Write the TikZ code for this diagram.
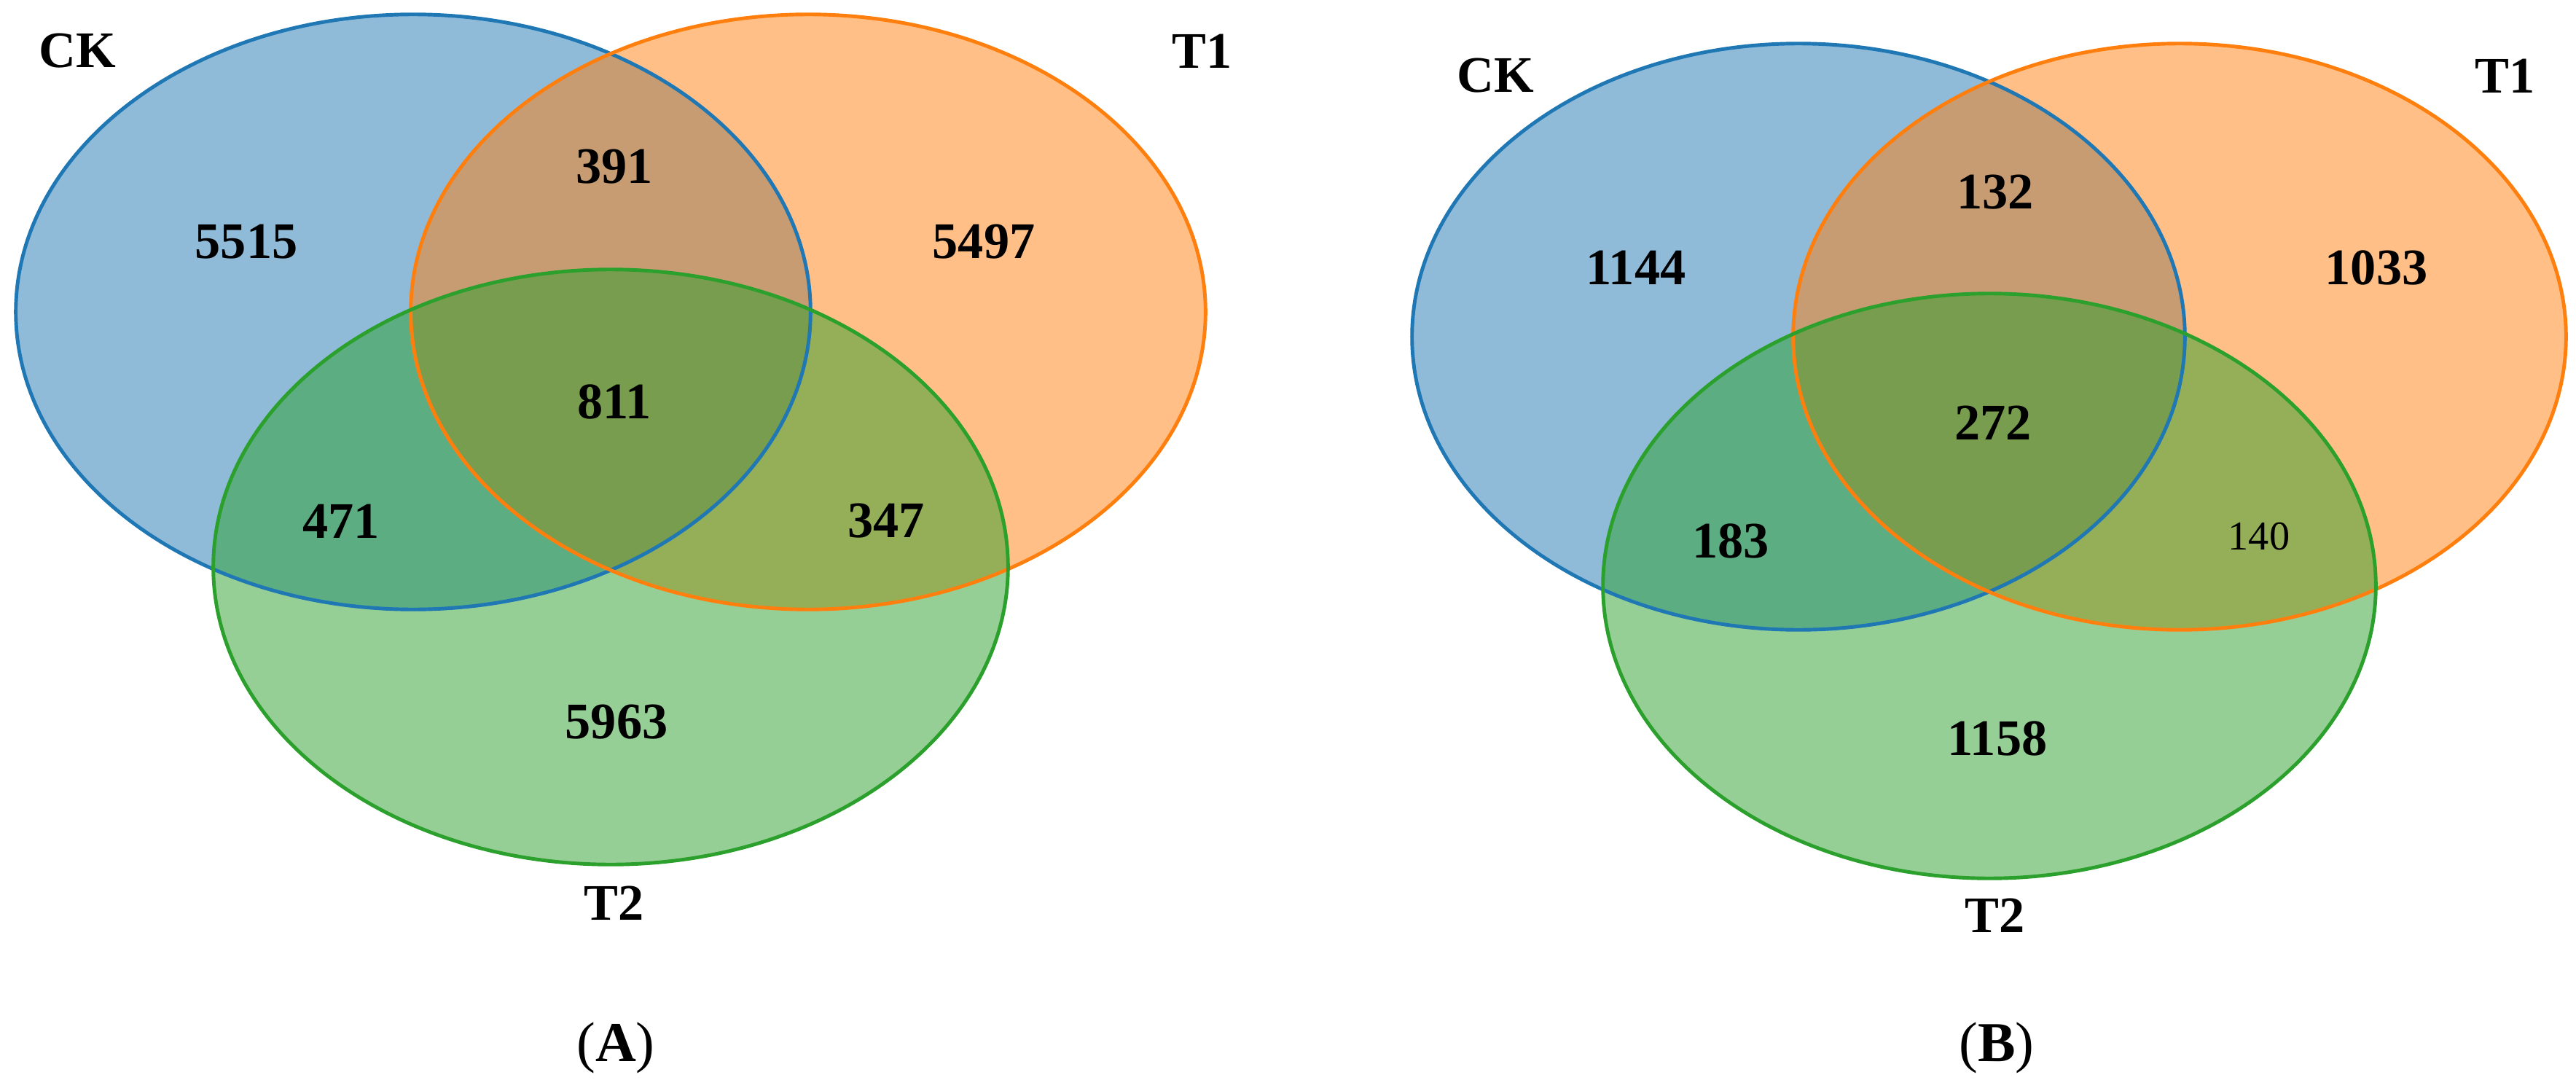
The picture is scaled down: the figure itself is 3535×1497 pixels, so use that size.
\documentclass[tikz,border=0pt]{standalone}
\usepackage{fontspec}
\setmainfont{Liberation Serif}
\definecolor{ckc}{HTML}{1F77B4}
\definecolor{t1c}{HTML}{FF7F0E}
\definecolor{t2c}{HTML}{2CA02C}
\tikzset{
  vfill/.style={fill opacity=0.5},
  vline/.style={line width=1.4pt},
  num/.style={font=\fontsize{20}{24}\selectfont\bfseries, inner sep=0pt},
  numlight/.style={font=\fontsize{16}{19}\selectfont, inner sep=0pt},
  setlab/.style={font=\fontsize{20}{24}\selectfont\bfseries, inner sep=0pt},
  panel/.style={font=\fontsize{22}{26}\selectfont, inner sep=0pt}
}
\begin{document}
\begin{tikzpicture}[x=0.01cm,y=-0.01cm]
\useasboundingbox (0,0) rectangle (3535,1497);
% ---------- Panel A ----------
\fill[ckc,vfill] (567,428) ellipse [x radius=5.45cm, y radius=4.08cm];
\fill[t1c,vfill] (1109,428) ellipse [x radius=5.45cm, y radius=4.08cm];
\fill[t2c,vfill] (838,778) ellipse [x radius=5.45cm, y radius=4.08cm];
\draw[ckc,vline] (567,428) ellipse [x radius=5.45cm, y radius=4.08cm];
\draw[t1c,vline] (1109,428) ellipse [x radius=5.45cm, y radius=4.08cm];
\draw[t2c,vline] (838,778) ellipse [x radius=5.45cm, y radius=4.08cm];
\node[setlab] (ckA) at (106,70) {CK};
\node[setlab] (t1A) at (1650,70) {T1};
\node[setlab] (t2A) at (843,1239) {T2};
\node[num] (a5515) at (338,332) {5515};
\node[num] (a391) at (843,229) {391};
\node[num] (a5497) at (1350,332) {5497};
\node[num] (a811) at (843,551) {811};
\node[num] (a471) at (468,715) {471};
\node[num] (a347) at (1216,715) {347};
\node[num] (a5963) at (846,991) {5963};
\node[panel] (pA) at (845,1438) {(\textbf{A})};
% ---------- Panel B ----------
\fill[ckc,vfill] (2468,462) ellipse [x radius=5.30cm, y radius=4.02cm];
\fill[t1c,vfill] (2991,462) ellipse [x radius=5.30cm, y radius=4.02cm];
\fill[t2c,vfill] (2730,804) ellipse [x radius=5.30cm, y radius=4.01cm];
\draw[ckc,vline] (2468,462) ellipse [x radius=5.30cm, y radius=4.02cm];
\draw[t1c,vline] (2991,462) ellipse [x radius=5.30cm, y radius=4.02cm];
\draw[t2c,vline] (2730,804) ellipse [x radius=5.30cm, y radius=4.01cm];
\node[setlab] (ckB) at (2052,104) {CK};
\node[setlab] (t1B) at (3438,104) {T1};
\node[setlab] (t2B) at (2738,1256) {T2};
\node[num] (b1144) at (2245,367) {1144};
\node[num] (b132) at (2738,264) {132};
\node[num] (b1033) at (3261,367) {1033};
\node[num] (b272) at (2735,580) {272};
\node[num] (b183) at (2375,742) {183};
\node[numlight] (b140) at (3100,736) {140};
\node[num] (b1158) at (2741,1013) {1158};
\node[panel] (pB) at (2740,1438) {(\textbf{B})};
\end{tikzpicture}
\end{document}
